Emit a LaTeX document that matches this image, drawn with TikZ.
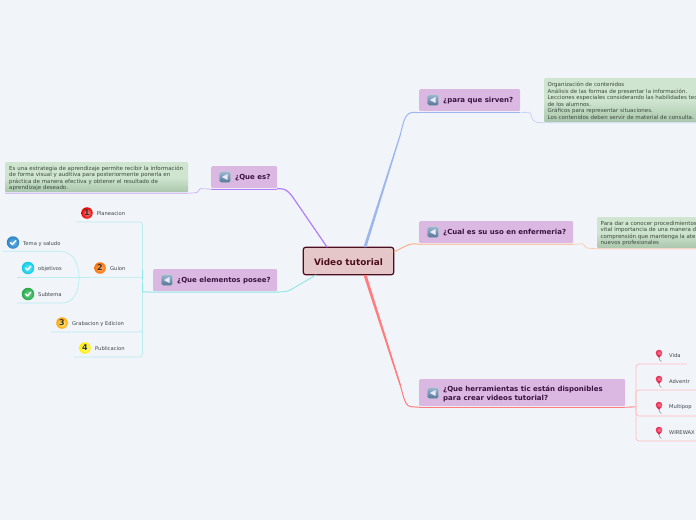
\documentclass[tikz,border=0pt]{standalone}
\usepackage{fontspec}
\setmainfont{DejaVu Sans}
\usetikzlibrary{calc,shadings}
\definecolor{bgc}{HTML}{F1F4F9}
\definecolor{purpbox}{HTML}{DBB8E2}
\definecolor{titlec}{HTML}{3A1240}
\definecolor{cpurple}{HTML}{B07EFA}
\definecolor{cblue}{HTML}{9DB6EE}
\definecolor{cblue2}{HTML}{C4D3F4}
\definecolor{corange}{HTML}{FFAB7C}
\definecolor{corange2}{HTML}{FFC9AB}
\definecolor{cred}{HTML}{FF7D7D}
\definecolor{cred2}{HTML}{FFBDBD}
\definecolor{ccyan}{HTML}{8FE6E6}
\definecolor{ccyan2}{HTML}{B8EEF0}
\definecolor{gtop}{HTML}{CFE5CF}
\definecolor{gbot}{HTML}{A9C6AC}
\definecolor{gtext}{HTML}{3A4A3B}
\definecolor{labelc}{HTML}{3F464C}
\definecolor{icontop}{HTML}{9DB9D2}
\definecolor{iconbot}{HTML}{557496}
\definecolor{pinc}{HTML}{E8294F}
\definecolor{chkA}{HTML}{2A84C8}
\definecolor{chkAi}{HTML}{6FB6E6}
\definecolor{chkB}{HTML}{0CCBE6}
\definecolor{chkBi}{HTML}{6FE6F4}
\definecolor{chkC}{HTML}{27A84A}
\definecolor{chkCi}{HTML}{6FD68A}
\tikzset{
  titlebox/.style={fill=purpbox,rounded corners=1.2pt,anchor=north west,inner sep=0pt},
  titletext/.style={anchor=west,inner sep=0pt,text=titlec,font=\fontsize{7}{9}\selectfont\bfseries,align=left},
  greenbox/.style={top color=gtop,bottom color=gbot,middle color=gtop,rounded corners=1pt,anchor=north west,inner sep=0pt},
  greentext/.style={anchor=north west,inner sep=0pt,text=gtext,font=\fontsize{5.5}{6.5}\selectfont,align=left},
  lab/.style={anchor=west,inner sep=0pt,text=labelc,font=\fontsize{5.2}{6.5}\selectfont},
  numc/.style={circle,inner sep=0pt,minimum size=11.5pt,text=black!80,font=\fontsize{8}{8}\selectfont\bfseries},
  checkc/.style={circle,inner sep=0pt,minimum size=12.5pt},
  iconbox/.style={rounded corners=1.5pt,minimum size=11pt,inner sep=0pt,top color=icontop,bottom color=iconbot,draw=white!70!gray,line width=.3pt},
  limb/.style={line cap=round,line join=round}
}
\newcommand{\icn}[2]{%
  \node[iconbox] (#1) at (#2) {};
  \fill[white!92!blue] ($(#1.center)+(-3.2,0)$) -- ($(#1.center)+(2.6,-3)$) -- ($(#1.center)+(2.6,3)$) -- cycle;
}
\newcommand{\chk}[4]{%
  \node[checkc,inner color=#3,outer color=#4] (#1) at (#2) {};
  \draw[white,line width=1.4pt,line cap=round,line join=round] ($(#1.center)+(-2.6,0)$) -- ($(#1.center)+(-.6,2)$) -- ($(#1.center)+(2.8,-1.8)$);
}
\newcommand{\pinm}[2]{%
  \node[circle,inner sep=0pt,minimum size=6.5pt,inner color=pinc!60!white,outer color=pinc] (#1) at (#2) {};
  \fill[pinc] ($(#1.center)+(-2.6,1.8)$) -- ($(#1.center)+(0,5)$) -- ($(#1.center)+(2.6,1.8)$) -- cycle;
  \draw[gray!80,line width=.6pt] ($(#1.center)+(0,4.5)$) .. controls ($(#1.center)+(0,7)$) and ($(#1.center)+(1,7)$) .. ($(#1.center)+(2.5,8.5)$);
}
\begin{document}
\begin{tikzpicture}[x=1pt,y=-1pt]
\useasboundingbox (0,0) rectangle (696,520);
\fill[bgc] (0,0) rectangle (696,520);

% central node
\node[draw={rgb,255:red,77;green,15;blue,32},line width=1.2pt,fill={rgb,255:red,229;green,198;blue,201},rounded corners=2.5pt,minimum width=90.5pt,minimum height=27.5pt,inner sep=0pt] (center) at (348.5,261) {};
\node[inner sep=0pt,text={rgb,255:red,77;green,15;blue,32},font=\fontsize{8.9}{10}\selectfont\bfseries] (centertext) at (348.5,262) {Video tutorial};

% title boxes
\node[titlebox,minimum width=101pt,minimum height=22pt] (para) at (419,89) {};
\node[titlebox,minimum width=154pt,minimum height=22pt] (cual) at (419,221) {};
\node[titlebox,minimum width=206pt,minimum height=27pt] (herr) at (419,379) {};
\node[titlebox,minimum width=66pt,minimum height=22pt] (ques) at (211,166) {};
\node[titlebox,minimum width=124pt,minimum height=22pt] (elem) at (153,269) {};

% green boxes
\node[greenbox,minimum width=183pt,minimum height=30pt] (gizq) at (5,162) {};
\node[greenbox,minimum width=160pt,minimum height=44pt] (gpara) at (544,78) {};
\node[greenbox,minimum width=110pt,minimum height=31pt] (gcual) at (597,217) {};

% coordinates
\coordinate (pA) at (327,247);
\coordinate (bA) at (365,247);
\coordinate (oA) at (394,252);
\coordinate (rA) at (365,275);
\coordinate (cA) at (316,275);
\coordinate (topP) at (142.5,222);

% connectors: purple
\draw[cpurple,line width=1.2pt,limb] (pA) -- (292,196) .. controls (287,190) and (285,188.7) .. (279,188.7) -- (ques.south east);
\draw[cpurple,line width=.9pt] (ques.south east) ++(0,.7) -- ($(ques.south west)+(0,.7)$);
\draw[cpurple!70,line width=.6pt] ($(ques.south west)+(0,.7)$) -- (201,188.7) .. controls (198,188.7) and (199.5,192.8) .. (195,192.8) -- ($(gizq.south east)+(0,.8)$) -- ($(gizq.south west)+(0,.8)$);

% connectors: blue
\fill[cblue] ($(bA)+(-1.5,0)$) -- ($(bA)+(1.5,0)$) -- (400.8,135) -- (399.6,135) -- cycle;
\draw[cblue,line width=1pt,limb] (400.2,135) .. controls (404,120) and (405,112.3) .. (414,112.3) -- ($(para.south west)+(0,1.3)$);
\draw[cblue,line width=.9pt] ($(para.south west)+(0,1.3)$) -- ($(para.south east)+(0,1.3)$);
\draw[cblue2,line width=.7pt] ($(para.south east)+(0,1.3)$) -- (529,112.3) .. controls (532,112.3) and (531,122.4) .. (537,122.4) -- ($(gpara.south west)+(0,.4)$) -- ($(gpara.south east)+(0,.4)$);

% connectors: orange
\draw[corange,line width=.9pt,limb] (oA) .. controls (404,247) and (408,243.8) .. (414,243.8) -- ($(cual.south west)+(0,.8)$) -- ($(cual.south east)+(0,.8)$);
\draw[corange2,line width=.7pt] ($(cual.south east)+(0,.8)$) -- (582,243.8) .. controls (585,243.8) and (584,248.3) .. (589,248.3) -- ($(gcual.south west)+(0,.3)$) -- ($(gcual.south east)+(0,.3)$);

% connectors: red
\fill[cred] ($(rA)+(-1.5,0)$) -- ($(rA)+(1.6,0)$) -- (401,385) -- (399.5,385) -- cycle;
\draw[cred,line width=1pt,limb] (400.2,385) .. controls (404,398) and (405,406.8) .. (412,406.8) -- ($(herr.south west)+(0,.8)$);
\draw[cred,line width=1.1pt] ($(herr.south west)+(0,.8)$) -- ($(herr.south east)+(0,.8)$);
\coordinate (rT) at (636,406.8);
\draw[cred!80,line width=1.1pt] ($(herr.south east)+(0,.8)$) -- (rT);
\draw[cred2,line width=.7pt,rounded corners=3pt] (rT) -- (636,364) -- (687,364);
\draw[cred2,line width=.7pt,rounded corners=3pt] (rT) -- (636,390) -- (696,390);
\draw[cred2,line width=.7pt,rounded corners=3pt] (rT) -- (636,416) -- (696,416);
\draw[cred2,line width=.7pt,rounded corners=3pt] (rT) -- (636,441) -- (696,441);

% connectors: cyan
\draw[ccyan,line width=.9pt,limb] (cA) -- (292,289) .. controls (287,291.8) and (285,291.8) .. (281,291.8) -- ($(elem.south east)+(0,.8)$);
\coordinate (cT) at (142.5,291.8);
\draw[ccyan,line width=1pt] ($(elem.south east)+(0,.8)$) -- ($(elem.south west)+(0,.8)$) -- (cT);
\draw[ccyan,line width=.7pt] (cT) -- (142.5,270);
\draw[ccyan2,line width=.7pt,rounded corners=3pt] (142.5,270) -- (topP) -- (76,222);
\draw[ccyan2,line width=.7pt,rounded corners=3pt] (142.5,283) -- (142.5,277.3) -- (90,277.3);
\draw[ccyan2,line width=.7pt,rounded corners=3pt] (cT) -- (142.5,332) -- (51,332);
\draw[ccyan2,line width=.7pt,rounded corners=3pt] (cT) -- (142.5,357) -- (74,357);
\coordinate (gJ) at (90,277.3);
\draw[ccyan2,line width=.7pt] (gJ) -- (17,277.3);
\draw[ccyan2,line width=.7pt] (79,277.3) .. controls (79,262) and (72,251.3) .. (60,251.3) -- (2,251.3);
\draw[ccyan2,line width=.7pt] (79,277.3) .. controls (79,292) and (74,303) .. (62,303) -- (17,303);

% title icons and text
\icn{i1}{433,100}
\node[titletext] (t1) at (443,101) {¿para que sirven?};
\icn{i2}{433,232}
\node[titletext] (t2) at (443,233) {¿Cual es su uso en enfermeria?};
\icn{i3}{433,393}
\node[titletext] (t3) at (443,393.5) {¿Que herramientas tic están disponibles\\para crear videos tutorial?};
\icn{i4}{225,177}
\node[titletext] (t4) at (235,178) {¿Que es?};
\icn{i5}{167,280}
\node[titletext] (t5) at (177,281) {¿Que elementos posee?};

% green text
\node[greentext] (tg1) at (9,165.5) {Es una estrategia de aprendizaje permite recibir la información\\de forma visual y auditiva para posteriormente ponerla en\\práctica de manera efectiva y obtener el resultado de\\aprendizaje deseado.};
\node[greentext] (tg2) at (547.5,82) {Organización de contenidos\\Análisis de las formas de presentar la información.\\Lecciones especiales considerando las habilidades tec\\de los alumnos.\\Gráficos para representar situaciones.\\Los contenidos deben servir de material de consulta.};
\node[greentext] (tg3) at (600.5,221) {Para dar a conocer procedimientos\\vital importancia de una manera d\\comprensión que mantenga la ate\\nuevos profesionales};

% left sub-labels
\node[numc,inner color=red!45!white,outer color=red!90!black] (n1) at (87,213) {1};
\node[lab] (l1) at (96.7,213.7) {Planeacion};
\node[numc,inner color=orange!55!white,outer color=orange!85!red] (n2) at (100,268) {2};
\node[lab] (l2) at (110,268.7) {Guion};
\node[numc,inner color=yellow!45!white,outer color=orange!75!yellow] (n3) at (62,323) {3};
\node[lab] (l3) at (72,323.7) {Grabacion y Edicion};
\node[numc,inner color=yellow!40!white,outer color=yellow!85!orange] (n4) at (85,348) {4};
\node[lab] (l4) at (95,348.7) {Publicacion};
\chk{c1}{13,242.5}{chkAi}{chkA}
\node[lab] (l5) at (23,243.7) {Tema y saludo};
\chk{c2}{28,268}{chkBi}{chkB}
\node[lab] (l6) at (38,268.7) {objetivos};
\chk{c3}{28,294}{chkCi}{chkC}
\node[lab] (l7) at (38,294.7) {Subtema};

% right sub-labels
\pinm{p1}{659,353}
\node[lab] (v1) at (669,355.7) {Vida};
\pinm{p2}{659,379}
\node[lab] (v2) at (669,381.7) {Adventr};
\pinm{p3}{659,405}
\node[lab] (v3) at (669,407) {Multipop};
\pinm{p4}{659,430}
\node[lab] (v4) at (669,432.7) {WIREWAX};
\end{tikzpicture}
\end{document}
